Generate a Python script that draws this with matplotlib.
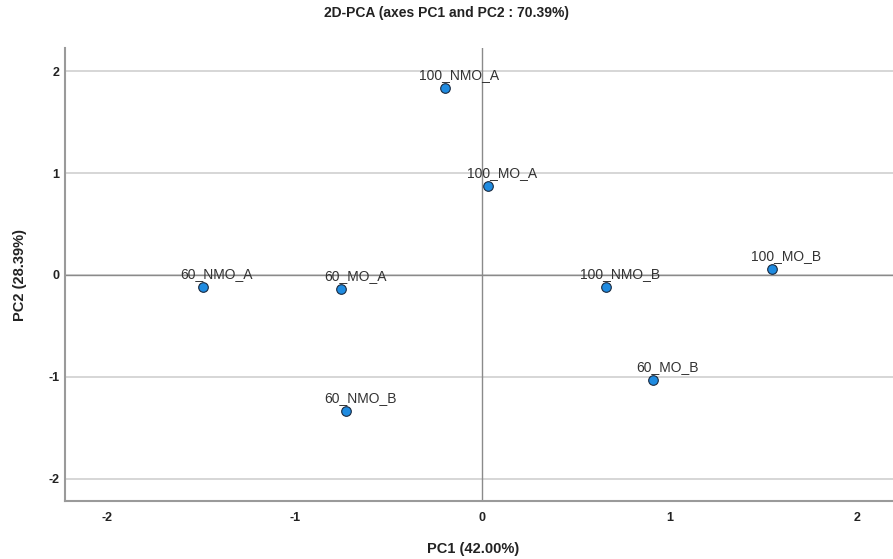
import matplotlib.pyplot as plt

plt.rcParams['font.family'] = ['Liberation Sans', 'DejaVu Sans']

samples = ['100_NMO_A', '100_MO_A', '60_NMO_A', '60_MO_A',
           '100_NMO_B', '100_MO_B', '60_MO_B', '60_NMO_B']
pc1 = [-0.197, 0.032, -1.488, -0.752, 0.661, 1.547, 0.912, -0.725]
pc2 = [1.833, 0.873, -0.118, -0.137, -0.118, 0.059, -1.030, -1.333]
ticks = [-2, -1, 0, 1, 2]

fig = plt.figure(figsize=(8.93, 5.59), dpi=100)
ax = fig.add_axes([0.0728, 0.1038, 0.9272, 0.8102])

ax.set_xlim(-2.224, 2.19)
ax.set_ylim(-2.216, 2.225)

# grid at the y ticks plus reference lines through the origin
for t in ticks:
    ax.axhline(t, color='#cfcfcf', lw=1.2, zorder=0)
ax.axhline(0, color='#8a8a8a', lw=1.0, zorder=1)
ax.axvline(0, color='#8a8a8a', lw=1.0, zorder=1)

ax.scatter(pc1, pc2, s=48, color='#1f8be0', edgecolor='#1a2a40',
           linewidth=0.8, zorder=3)
for name, x, y in zip(samples, pc1, pc2):
    ax.annotate(name, (x, y), xytext=(10, 4.5), textcoords='offset points',
                ha='center', va='bottom', fontsize=10, color='#333333',
                zorder=4)

for side in ('top', 'right'):
    ax.spines[side].set_visible(False)
for side in ('left', 'bottom'):
    ax.spines[side].set_color('#9a9a9a')
    ax.spines[side].set_linewidth(1.5)

ax.set_xticks(ticks)
ax.set_yticks(ticks)
ax.set_xticklabels([str(t) for t in ticks])
ax.set_yticklabels([str(t) for t in ticks])
ax.tick_params(length=0, labelsize=9, labelcolor='#222222')
ax.tick_params(axis='x', pad=8)
ax.tick_params(axis='y', pad=4)
for lab in ax.get_xticklabels() + ax.get_yticklabels():
    lab.set_fontweight('bold')

fig.text(0.5, 0.977, '2D-PCA (axes PC1 and PC2 : 70.39%)', ha='center',
         va='center', fontsize=10, fontweight='bold', color='#222222')
fig.text(0.53, 0.018, 'PC1 (42.00%)', ha='center', va='center',
         fontsize=10.5, fontweight='bold', color='#222222')
fig.text(0.022, 0.508, 'PC2 (28.39%)', ha='center', va='center',
         rotation=90, fontsize=10.5, fontweight='bold', color='#222222')

fig.savefig('out.png', dpi=100)
